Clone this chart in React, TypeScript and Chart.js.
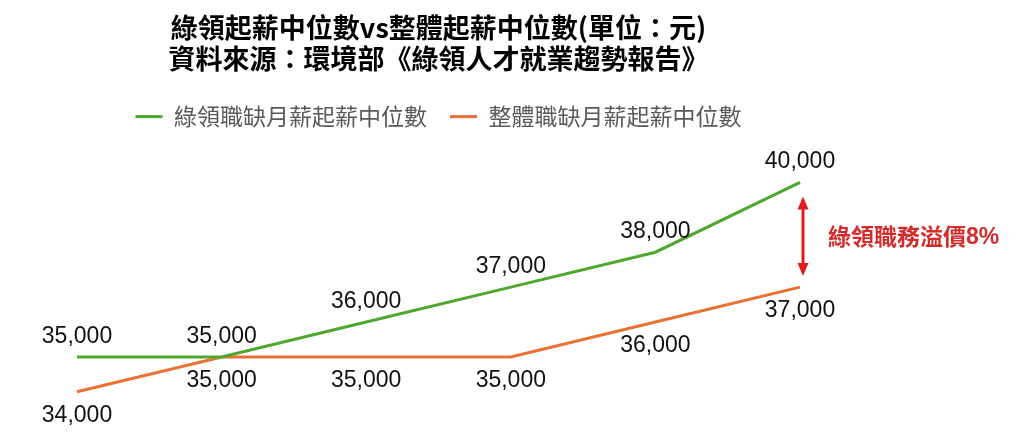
import React, { useEffect, useRef } from "react";
import { Chart, registerables, Plugin } from "chart.js";

Chart.register(...registerables);

const years = ["1", "2", "3", "4", "5", "6"];
const greenSalary = [35000, 35000, 36000, 37000, 38000, 40000];
const overallSalary = [34000, 35000, 35000, 35000, 36000, 37000];
const seriesNames = ["綠領職缺月薪起薪中位數", "整體職缺月薪起薪中位數"];
const titleLines = ["綠領起薪中位數vs整體起薪中位數(單位：元)", "資料來源：環境部《綠領人才就業趨勢報告》"];
const premiumText = "綠領職務溢價";
const premiumPct = "8%";

const GREEN = "#4ea72e";
const ORANGE = "#e97132";
const RED = "#e31b1b";

// value labels: green above the line, orange below
const valueLabels: Plugin<"line"> = {
  id: "valueLabels",
  afterDatasetsDraw(chart) {
    const { ctx } = chart;
    ctx.save();
    ctx.font = "23px 'Liberation Sans', Arial, sans-serif";
    ctx.fillStyle = "#111";
    ctx.textAlign = "center";
    ctx.textBaseline = "alphabetic";
    chart.data.datasets.forEach((ds, i) => {
      const meta = chart.getDatasetMeta(i);
      meta.data.forEach((pt, j) => {
        const v = ds.data[j] as number;
        const dy = i === 0 ? -14 : 30;
        ctx.fillText(v.toLocaleString("en-US"), pt.x, pt.y + dy);
      });
    });
    ctx.restore();
  },
};

// double arrow and premium note beside the last points
const premiumNote: Plugin<"line"> = {
  id: "premiumNote",
  afterDraw(chart) {
    const { ctx } = chart;
    const top = chart.getDatasetMeta(0).data[5];
    const bottom = chart.getDatasetMeta(1).data[5];
    const x = top.x + 3;
    const y1 = top.y + 14;
    const y2 = bottom.y - 11;
    ctx.save();
    ctx.strokeStyle = RED;
    ctx.fillStyle = RED;
    ctx.lineWidth = 3;
    ctx.beginPath();
    ctx.moveTo(x, y1 + 10);
    ctx.lineTo(x, y2 - 10);
    ctx.stroke();
    ctx.beginPath();
    ctx.moveTo(x, y1);
    ctx.lineTo(x - 5.5, y1 + 13);
    ctx.lineTo(x + 5.5, y1 + 13);
    ctx.closePath();
    ctx.fill();
    ctx.beginPath();
    ctx.moveTo(x, y2);
    ctx.lineTo(x - 5.5, y2 - 13);
    ctx.lineTo(x + 5.5, y2 - 13);
    ctx.closePath();
    ctx.fill();

    const ty = (y1 + y2) / 2;
    ctx.fillStyle = "#d42b2b";
    ctx.textBaseline = "middle";
    ctx.textAlign = "left";
    ctx.font = "bold 23px 'Noto Sans CJK TC', sans-serif";
    const tx = x + 25;
    ctx.fillText(premiumText, tx, ty);
    const w = ctx.measureText(premiumText).width;
    ctx.font = "bold 23px 'Liberation Sans', Arial, sans-serif";
    ctx.fillText(premiumPct, tx + w, ty + 1);
    ctx.restore();
  },
};

export default function App() {
  const canvasRef = useRef<HTMLCanvasElement | null>(null);

  useEffect(() => {
    document.body.style.margin = "0";
    const canvas = canvasRef.current;
    if (!canvas) return;

    const chart = new Chart(canvas, {
      type: "line",
      data: {
        labels: years,
        datasets: [
          {
            label: seriesNames[0],
            data: greenSalary,
            borderColor: GREEN,
            backgroundColor: GREEN,
            borderWidth: 3,
            pointRadius: 0,
            tension: 0,
          },
          {
            label: seriesNames[1],
            data: overallSalary,
            borderColor: ORANGE,
            backgroundColor: ORANGE,
            borderWidth: 3,
            pointRadius: 0,
            tension: 0,
          },
        ],
      },
      options: {
        animation: false,
        responsive: true,
        maintainAspectRatio: false,
        layout: { padding: { left: 77, right: 224, top: 0, bottom: 20 } },
        scales: {
          x: { display: false, offset: false },
          y: { display: false, min: 33279, max: 41269 },
        },
        plugins: {
          title: {
            display: true,
            fullSize: false,
            text: titleLines,
            color: "#000",
            font: { family: "'Noto Sans CJK TC', sans-serif", size: 27, weight: "bold", lineHeight: 1.15 },
            padding: { top: 12, bottom: 8 },
          },
          legend: {
            display: true,
            fullSize: false,
            labels: {
              usePointStyle: true,
              pointStyle: "line",
              pointStyleWidth: 27,
              color: "#595959",
              padding: 23,
              font: { family: "'Noto Sans CJK TC', sans-serif", size: 23 },
            },
          },
          tooltip: { enabled: false },
        },
      },
      plugins: [valueLabels, premiumNote],
    });

    return () => chart.destroy();
  }, []);

  return (
    <div style={{ position: "relative", width: 1024, height: 437, background: "#fff" }}>
      <canvas ref={canvasRef} />
    </div>
  );
}
